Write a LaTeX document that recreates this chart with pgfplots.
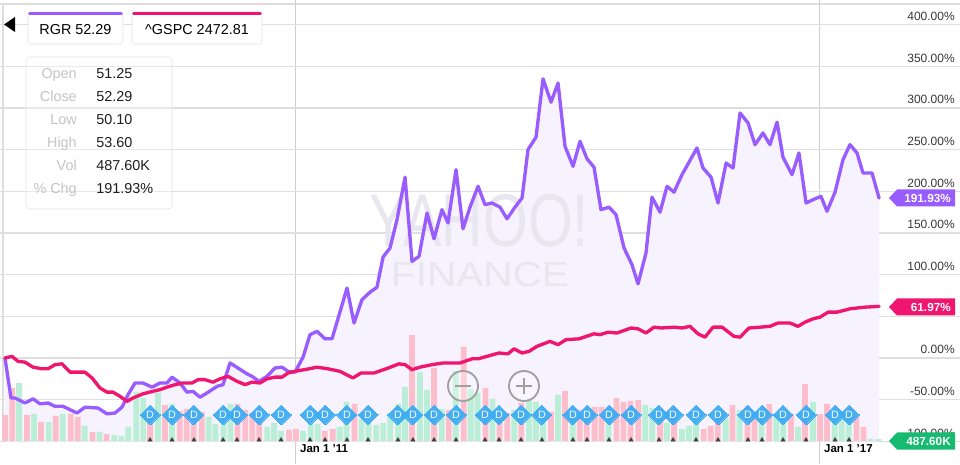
\documentclass[border=0pt]{standalone}
\usepackage{pgfplots}
\usepackage{pgfplotstable}
\pgfplotsset{compat=1.18}
\usepackage{fontspec}
\setmainfont{Liberation Sans}
\definecolor{rgr}{RGB}{152,92,255}
\definecolor{spx}{RGB}{240,22,112}
\definecolor{lav}{RGB}{246,242,254}
\definecolor{volg}{RGB}{186,238,214}
\definecolor{volp}{RGB}{252,190,202}
\definecolor{dblue}{RGB}{62,172,242}
\definecolor{tagg}{RGB}{22,186,112}
\definecolor{gridc}{RGB}{222,222,222}
\definecolor{vgrid}{RGB}{205,205,210}
\definecolor{lblgray}{RGB}{55,55,55}
\definecolor{infogray}{RGB}{196,196,196}
\definecolor{boxgray}{RGB}{228,228,228}
\definecolor{wm}{RGB}{232,230,238}
\definecolor{btn}{RGB}{160,160,160}

\pgfplotstableread{
x y
2007.668 0
2007.737 -48
2007.783 -48
2007.897 -54
2007.989 -49
2008.069 -55
2008.161 -54
2008.241 -58
2008.332 -58
2008.493 -66
2008.584 -59
2008.733 -60
2008.836 -67
2008.928 -66
2009.008 -59
2009.077 -44
2009.157 -30
2009.248 -30
2009.352 -35
2009.443 -30
2009.523 -30
2009.581 -23
2009.672 -30
2009.752 -41
2009.821 -40
2009.901 -47
2009.981 -42
2010.096 -34
2010.165 -32
2010.245 -6
2010.336 -12
2010.439 -19
2010.497 -22
2010.577 -28
2010.668 -22
2010.760 -12
2010.840 -11
2010.909 -16
2010.989 -17
2011.081 1
2011.161 28
2011.241 32
2011.333 23
2011.413 23
2011.585 84
2011.665 42
2011.756 70
2011.848 79
2011.928 85
2011.997 121
2012.077 132
2012.157 166
2012.249 217
2012.329 116
2012.409 122
2012.501 174
2012.581 143
2012.672 178
2012.741 162
2012.833 226
2012.913 155
2012.993 181
2013.085 206
2013.165 184
2013.245 186
2013.337 181
2013.417 167
2013.508 181
2013.589 192
2013.657 250
2013.749 265
2013.829 335
2013.921 307
2014.001 330
2014.081 254
2014.173 230
2014.253 260
2014.333 239
2014.413 229
2014.493 178
2014.585 181
2014.665 172
2014.757 132
2014.848 112
2014.917 89
2015.008 126
2015.077 193
2015.169 175
2015.249 206
2015.329 199
2015.421 220
2015.501 235
2015.592 252
2015.661 228
2015.753 217
2015.833 186
2015.925 234
2016.005 228
2016.085 294
2016.177 282
2016.257 256
2016.348 270
2016.428 256
2016.509 283
2016.577 241
2016.680 220
2016.760 246
2016.841 186
2016.921 190
2017.012 194
2017.081 176
2017.173 199
2017.264 238
2017.344 256
2017.425 246
2017.493 222
2017.596 222
2017.677 191.93
}\rgrdata

\pgfplotstableread{
x y
2007.668 0
2007.748 2
2007.817 -4
2007.897 -5
2007.989 -11
2008.092 -13
2008.161 -13
2008.241 -8
2008.321 -7
2008.413 -17
2008.504 -17
2008.584 -17
2008.665 -24
2008.756 -36
2008.836 -41
2008.905 -41
2008.985 -46
2009.065 -52
2009.134 -48
2009.248 -43
2009.363 -40
2009.443 -38
2009.523 -35
2009.615 -32
2009.707 -30
2009.810 -30
2009.878 -26
2009.958 -26
2010.050 -29
2010.130 -25
2010.222 -22
2010.325 -28
2010.417 -32
2010.497 -29
2010.588 -30
2010.668 -25
2010.760 -23
2010.840 -23
2010.909 -18
2010.989 -16
2011.149 -13
2011.241 -11
2011.367 -13
2011.504 -16
2011.653 -24
2011.745 -18
2011.894 -18
2012.031 -13
2012.180 -7
2012.249 -8
2012.329 -14
2012.420 -11
2012.558 -8
2012.684 -6
2012.878 -6
2013.016 -1
2013.085 -1
2013.188 2
2013.325 6
2013.428 5
2013.497 11
2013.589 6
2013.669 8
2013.760 14
2013.909 20
2014.001 16
2014.092 22
2014.241 23
2014.413 29
2014.482 28
2014.573 31
2014.676 30
2014.837 36
2014.917 35
2015.008 30
2015.100 37
2015.180 36
2015.341 37
2015.421 36
2015.512 38
2015.604 29
2015.684 25
2015.776 37
2015.879 37
2016.016 26
2016.085 25
2016.188 36
2016.314 37
2016.428 38
2016.520 42
2016.657 42
2016.749 38
2016.829 43
2016.921 47
2017.001 49
2017.093 55
2017.195 55
2017.344 59
2017.425 60
2017.516 61
2017.677 61.97
}\spxdata

% monthly volume, millions of shares (up months)
\pgfplotstableread{
x v
2007.83 14.5
2008.00 6.75
2008.17 4.75
2008.33 6.75
2008.58 3.75
2008.75 2.25
2008.92 1.5
2009.00 1.25
2009.08 3.5
2009.17 12.25
2009.25 10.75
2009.42 12.0
2009.58 9.25
2010.00 6.0
2010.08 4.25
2010.17 7.0
2010.25 9.25
2010.67 3.5
2010.75 4.5
2010.83 2.5
2011.08 2.5
2011.17 4.25
2011.25 4.25
2011.50 3.5
2011.58 9.75
2011.75 5.5
2011.83 4.5
2011.92 4.0
2012.00 4.5
2012.08 7.0
2012.17 9.25
2012.25 13.5
2012.42 17.25
2012.50 12.75
2012.67 8.0
2012.83 17.5
2013.00 13.0
2013.08 12.0
2013.25 10.5
2013.50 7.75
2013.67 10.5
2013.75 9.75
2013.83 7.25
2014.00 11.5
2014.17 8.0
2014.58 7.75
2015.00 9.0
2015.08 8.25
2015.25 4.5
2015.42 3.0
2015.50 3.75
2015.58 7.75
2015.92 5.75
2016.08 7.75
2016.33 7.0
2016.50 6.25
2016.58 7.25
2016.75 3.5
2016.92 9.75
2017.17 7.75
2017.25 7.25
2017.33 7.75
2017.58 0.5
2017.67 0.4876
}\volgdata

% monthly volume, millions of shares (down months)
\pgfplotstableread{
x v
2007.67 6.5
2007.75 13.25
2007.92 6.5
2008.08 4.75
2008.25 6.25
2008.42 6.75
2008.50 6.0
2008.67 2.25
2008.83 1.75
2009.33 7.75
2009.50 9.0
2009.67 7.5
2009.75 8.0
2009.83 7.75
2009.92 7.25
2010.33 9.25
2010.42 7.75
2010.50 7.0
2010.58 6.5
2010.92 2.75
2011.00 3.0
2011.33 2.5
2011.42 3.0
2011.67 9.25
2012.33 26.5
2012.58 18.25
2012.75 7.75
2012.92 23.5
2013.17 13.25
2013.33 7.0
2013.42 7.0
2013.58 9.5
2013.92 7.25
2014.08 12.5
2014.25 7.75
2014.33 7.25
2014.42 8.5
2014.50 8.5
2014.67 10.75
2014.75 9.75
2014.83 10.0
2014.92 10.25
2015.17 8.0
2015.33 7.5
2015.67 3.0
2015.75 3.75
2015.83 7.0
2016.00 9.0
2016.17 8.75
2016.25 6.5
2016.42 9.25
2016.67 6.75
2016.83 14.25
2017.00 6.75
2017.08 9.25
2017.42 6.0
2017.50 3.5
}\volpdata

% dividend events: d = marker level, t = tick level
\pgfplotstableread{
x d t
2009.329 -68.4 -98.4
2009.581 -68.4 -98.4
2009.832 -68.4 -98.4
2010.165 -68.4 -98.4
2010.325 -68.4 -98.4
2010.577 -68.4 -98.4
2010.829 -68.4 -98.4
2011.161 -68.4 -98.4
2011.333 -68.4 -98.4
2011.584 -68.4 -98.4
2011.825 -68.4 -98.4
2012.168 -68.4 -98.4
2012.340 -68.4 -98.4
2012.581 -68.4 -98.4
2012.833 -68.4 -98.4
2013.165 -68.4 -98.4
2013.325 -68.4 -98.4
2013.577 -68.4 -98.4
2013.817 -68.4 -98.4
2014.172 -68.4 -98.4
2014.333 -68.4 -98.4
2014.585 -68.4 -98.4
2014.837 -68.4 -98.4
2015.157 -68.4 -98.4
2015.318 -68.4 -98.4
2015.581 -68.4 -98.4
2015.833 -68.4 -98.4
2016.176 -68.4 -98.4
2016.337 -68.4 -98.4
2016.577 -68.4 -98.4
2016.841 -68.4 -98.4
2017.173 -68.4 -98.4
2017.333 -68.4 -98.4
}\divdata

\pgfplotsset{
  chartframe/.style={scale only axis, width=720pt, height=348pt, at={(0,0)}, anchor=south west,
    xmin=2007.611, xmax=2018.604, axis line style={draw=none}, major tick length=0pt},
  pct/.style={ymin=-127.2, ymax=429.6},
}

\begin{document}
\begin{tikzpicture}
% background frame lines (pixel coordinates)
\begin{scope}[x=0.75pt, y=-0.75pt, shift={(0pt,348pt)}]
\draw[gridc, line width=1pt] (0,4) -- (960,4);
\draw[gridc, line width=1pt] (3,4) -- (3,441);
\end{scope}

\begin{axis}[chartframe, pct,
  ytick={-100,-50,0,50,100,150,200,250,300,350,400},
  yticklabels={-100.00\%,-50.00\%,0.00\%,{},100.00\%,150.00\%,200.00\%,250.00\%,300.00\%,350.00\%,400.00\%},
  yticklabel pos=right,
  yticklabel style={anchor=base east, inner sep=0pt, xshift=-3.75pt, yshift=3pt, font=\fontsize{9}{9}\selectfont, text=lblgray},
  xtick={2011,2017},
  xticklabels={Jan 1 ’11, Jan 1 ’17},
  xticklabel style={anchor=base west, inner sep=0pt, xshift=3pt, yshift=8.5pt, font=\bfseries\fontsize{8.6}{9}\selectfont, text=black},
  xmajorgrids, ymajorgrids,
  major x grid style={vgrid, line width=0.8pt},
  major y grid style={gridc, line width=1pt},
]
\addplot[draw=none, fill=lav] table {\rgrdata} -- (axis cs:2017.677,-100) -- (axis cs:2007.668,-100) -- cycle;
\end{axis}

\begin{axis}[chartframe, ymin=-5.75, ymax=110.25, xtick=\empty, ytick=\empty]
\addplot[ybar, bar width=0.066, bar shift=0pt, fill=volg, draw=none] table {\volgdata};
\addplot[ybar, bar width=0.066, bar shift=0pt, fill=volp, draw=none] table {\volpdata};
\end{axis}

% watermark
\begin{scope}[x=0.75pt, y=-0.75pt, shift={(0pt,348pt)}]
\node[text=wm, font=\fontsize{56}{56}\selectfont, xscale=0.77, anchor=base, inner sep=0pt] at (479,247) {YAHOO!};
\node[text=wm, font=\fontsize{26}{26}\selectfont, xscale=1.17, anchor=base, inner sep=0pt] at (480,287) {FINANCE};
\end{scope}

\begin{axis}[chartframe, pct, xtick=\empty, ytick=\empty]
\addplot[rgr, line width=2.5pt, line join=round, line cap=round] table {\rgrdata};
\addplot[spx, line width=2.5pt, line join=round, line cap=round] table {\spxdata};
\addplot[color=dblue, only marks, mark=square*, mark size=5.3pt,
  mark options={rotate=45, fill=dblue, draw=dblue, line width=0pt, fill opacity=0.95, draw opacity=0.95},
  nodes near coords={D}, nodes near coords align={center},
  every node near coord/.append style={anchor=center, text=white, inner sep=0pt, font=\fontsize{8}{8}\selectfont}]
  table[x=x, y=d] {\divdata};
\addplot[color=black!75, only marks, mark=triangle*, mark size=1.8pt, mark options={fill=black!75, draw=none}]
  table[x=x, y=t] {\divdata};
\end{axis}

% overlays (pixel coordinates)
\begin{scope}[x=0.75pt, y=-0.75pt, shift={(0pt,348pt)}]
% zoom buttons
\draw[btn, line width=1.4pt, fill=white, fill opacity=0.3] (463,386) circle[radius=11.25pt];
\draw[btn, line width=2.2pt] (455,386) -- (471,386);
\draw[btn, line width=1.4pt, fill=white, fill opacity=0.3] (524,386) circle[radius=11.25pt];
\draw[btn, line width=2.2pt] (516,386) -- (532,386) (524,378) -- (524,394);
% value tags
\fill[rgr] (889,198) -- (897,189.5) -- (955,189.5) -- (955,206.5) -- (897,206.5) -- cycle;
\node[text=white, font=\bfseries\fontsize{8.8}{9}\selectfont, anchor=base east, inner sep=0pt] at (951,202.5) {191.93\%};
\fill[spx] (889,307) -- (897,298.5) -- (955,298.5) -- (955,315.5) -- (897,315.5) -- cycle;
\node[text=white, font=\bfseries\fontsize{8.8}{9}\selectfont, anchor=base east, inner sep=0pt] at (951,311.5) {61.97\%};
\fill[tagg] (889,441) -- (897,432.5) -- (955,432.5) -- (955,449.5) -- (897,449.5) -- cycle;
\node[text=white, font=\bfseries\fontsize{8.8}{9}\selectfont, anchor=base east, inner sep=0pt] at (951,445.5) {487.60K};
% back arrow
\fill[black] (4,24.5) -- (15,17) -- (15,32) -- cycle;
% legend boxes
\draw[boxgray, fill=white, rounded corners=2.5pt] (28,12) rectangle (123,44);
\draw[rgr, line width=2.2pt, line cap=round] (29.5,13.5) -- (121.5,13.5);
\node[font=\fontsize{10.8}{11}\selectfont, anchor=base, inner sep=0pt] at (75.5,35) {RGR 52.29};
\draw[boxgray, fill=white, rounded corners=2.5pt] (132,12) rectangle (262,44);
\draw[spx, line width=2.2pt, line cap=round] (133.5,13.5) -- (260.5,13.5);
\node[font=\fontsize{10.8}{11}\selectfont, anchor=base, inner sep=0pt] at (197,35) {\textasciicircum GSPC 2472.81};
% info box
\draw[boxgray, fill=white, fill opacity=0.35, rounded corners=3pt] (26,57) rectangle (172,209);
\begin{scope}[every node/.style={font=\fontsize{10.8}{11}\selectfont, inner sep=0pt}]
\node[anchor=base east, text=infogray] at (77,79) {Open};
\node[anchor=base east, text=infogray] at (77,102) {Close};
\node[anchor=base east, text=infogray] at (77,125) {Low};
\node[anchor=base east, text=infogray] at (77,148) {High};
\node[anchor=base east, text=infogray] at (77,171) {Vol};
\node[anchor=base east, text=infogray] at (77,194) {\% Chg};
\node[anchor=base west, text=black!88] at (96,79) {51.25};
\node[anchor=base west, text=black!88] at (96,102) {52.29};
\node[anchor=base west, text=black!88] at (96,125) {50.10};
\node[anchor=base west, text=black!88] at (96,148) {53.60};
\node[anchor=base west, text=black!88] at (96,171) {487.60K};
\node[anchor=base west, text=black!88] at (96,194) {191.93\%};
\end{scope}
\end{scope}
\pgfresetboundingbox
\useasboundingbox (0,0) rectangle (720pt,348pt);
\end{tikzpicture}
\end{document}
